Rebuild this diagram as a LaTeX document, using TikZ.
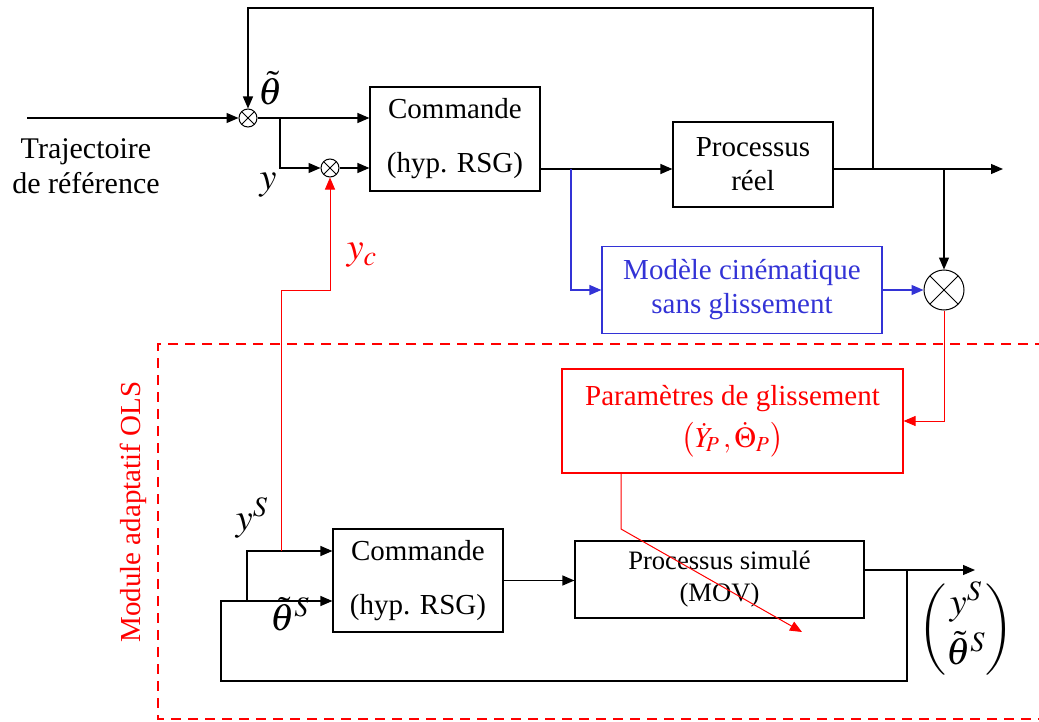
\documentclass[tikz,border=0pt]{standalone}
\usepackage{amsmath}
\usepackage{mathptmx}
\usepackage{fontspec}
\setmainfont{Liberation Serif}
\usepackage{xcolor}
\usetikzlibrary{positioning, arrows.meta}
\definecolor{modblue}{RGB}{51,51,214}

\begin{document}
\begin{tikzpicture}[x=0.5pt, y=-0.5pt,
    font=\fontsize{14.5}{17}\selectfont,
    blk/.style={draw, line width=0.6pt, inner sep=0pt, align=center},
    mult/.style={circle, draw, line width=0.5pt, inner sep=0pt,
        path picture={\draw[line width=0.4pt] (path picture bounding box.south west) -- (path picture bounding box.north east)
            (path picture bounding box.north west) -- (path picture bounding box.south east);}},
    arr/.style={-{Triangle[length=6pt, width=5pt]}, line width=0.6pt},
    barr/.style={arr, modblue},
    rarr/.style={arr, red, line width=0.5pt},
    lbl/.style={font=\fontsize{19}{22}\selectfont}]
    \useasboundingbox (0,0) rectangle (1039,722);

    % Upper loop
    \node[mult, minimum size=9pt] (jA) at (248,118) {};
    \node[mult, minimum size=9pt] (jB) at (330,168) {};
    \node[blk, minimum width=85pt, minimum height=52pt] (cmdA) at (455,139) {Commande\\[10pt](hyp. RSG)};
    \node[blk, minimum width=80pt, minimum height=42.5pt] (procR) at (753,164.5) {Processus\\réel};
    \node[blk, modblue, text=modblue, minimum width=140pt, minimum height=43.5pt] (model) at (742,290) {Modèle cinématique\\sans glissement};
    \node[mult, minimum size=20pt] (mulB) at (944,290) {};

    \coordinate (in) at (27,118);
    \coordinate (bA) at (280,118);
    \coordinate (pA) at (571,169);
    \coordinate (fb) at (873,169);
    \coordinate (pB) at (944,169);
    \coordinate (out) at (1003,169);
    \coordinate (topc) at (248,8);

    \draw[arr] (in) -- (jA);
    \draw[arr] (jA.east) -- (cmdA.west |- jA);
    \draw[arr] (bA) |- (jB.west);
    \draw[arr] (jB.east) -- (cmdA.west |- jB);
    \draw[line width=0.6pt] (cmdA.east |- pA) -- (pA);
    \draw[arr] (pA) -- (procR.west |- pA);
    \draw[arr] (procR.east |- pA) -- (out);
    \draw[arr] (fb) -- (fb |- topc) -- (topc) -- (jA.north);
    \draw[arr] (pB) -- (mulB.north);
    \draw[barr] (pA) |- (model.west);
    \draw[barr] (model.east) -- (mulB.west);

    \node[align=center, font=\fontsize{15}{17.5}\selectfont] (traj) at (86,166) {Trajectoire\\de référence};
    \node[lbl] (lth) at (271,88) {$\tilde{\theta}$};
    \node[lbl] (ly) at (268,185) {$y$};
    \node[lbl, red] (lyc) at (362,255) {$y_c$};

    % Adaptive module
    \draw[red, dashed, line width=1pt, dash pattern=on 5pt off 3.5pt] (1045,344) -- (158,344) -- (158,719) -- (1045,719);
    \node[red, rotate=90] (mod) at (133,512) {Module adaptatif OLS};

    \node[blk, red, text=red, minimum width=170.5pt, minimum height=52pt] (param) at (732.5,421) {Paramètres de glissement\\[4pt]$\left(\dot{Y}_{\!P}\,,\dot{\Theta}_P\right)$};
    \node[blk, minimum width=85pt, minimum height=51.5pt] (cmdB) at (418,580.5) {Commande\\[10pt](hyp. RSG)};
    \node[blk, minimum width=144.5pt, minimum height=38.5pt, font=\fontsize{13.3}{16}\selectfont] (procS) at (719.5,579.5) {Processus simulé\\(MOV)};

    \coordinate (pd) at (621,529);
    \coordinate (pe) at (802,632);
    \coordinate (bB) at (907,570);
    \coordinate (o2) at (975,570);
    \coordinate (lb) at (221,681);
    \coordinate (th) at (247,601);
    \coordinate (ys) at (247,551);
    \coordinate (yc0) at (281,551);
    \coordinate (yc1) at (281,290);

    \draw[arr] (cmdB.east) -- (procS.west |- cmdB.east);
    \draw[arr] (procS.east |- bB) -- (o2);
    \draw[arr] (bB) |- (lb) |- (cmdB.west |- th);
    \draw[arr] (th) |- (cmdB.west |- ys);
    \draw[rarr] (yc0) -- (yc1) -| (jB.south);
    \draw[rarr] (mulB.south) |- (param.east);
    \draw[rarr] (param.south -| pd) -- (pd) -- (pe);

    \node[lbl] (lys) at (252,518) {$y^S$};
    \node[lbl] (lths) at (290,614) {$\tilde{\theta}^S$};
    \node[lbl] (vec) at (966,630) {$\begin{pmatrix} y^S\\[2pt] \tilde{\theta}^S \end{pmatrix}$};

\end{tikzpicture}
\end{document}
